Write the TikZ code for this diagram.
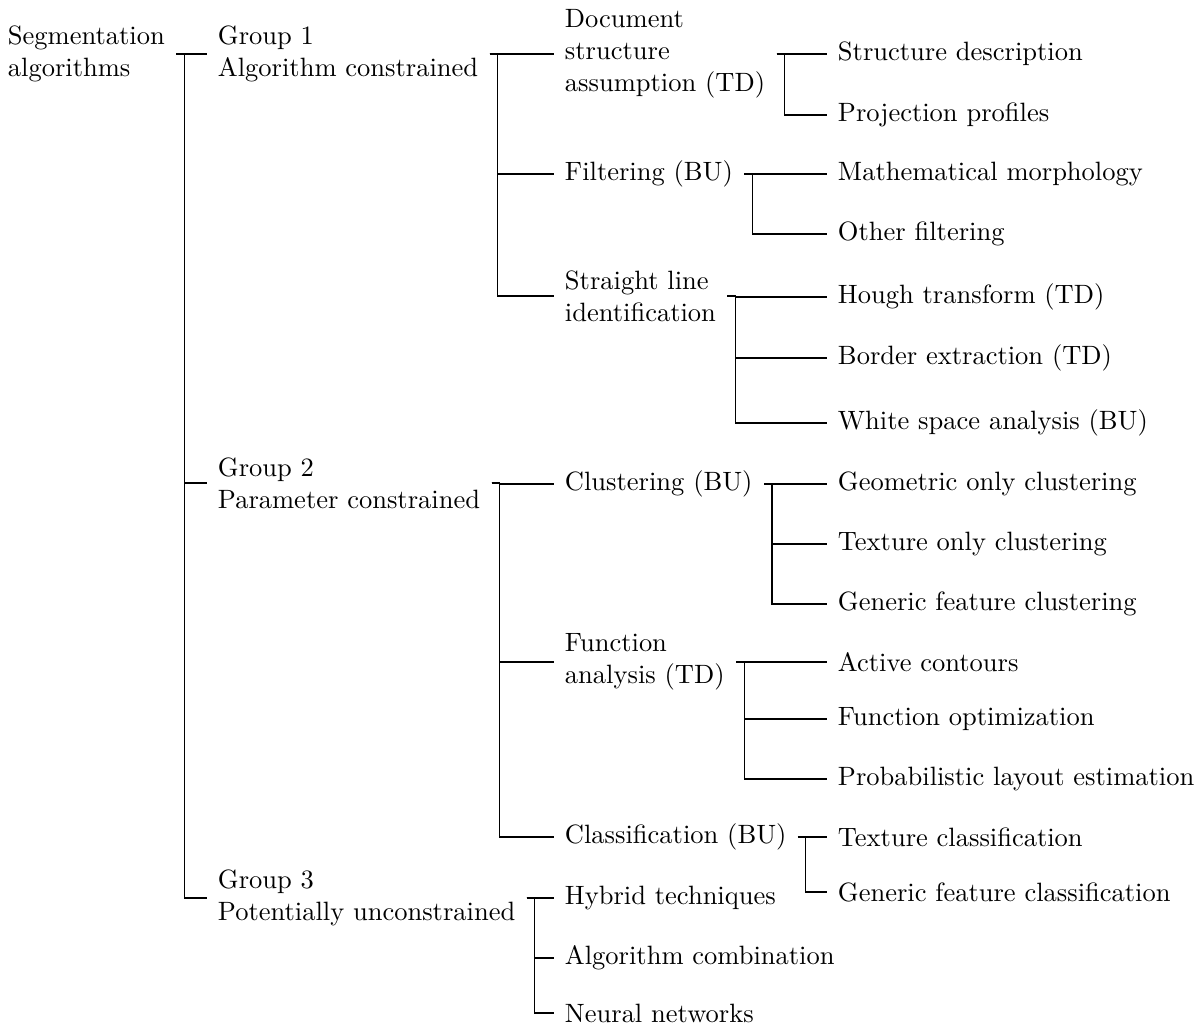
\documentclass[tikz,border=0pt]{standalone}
\usepackage{tikz}
\pgfdeclarelayer{edgelayer}
\pgfdeclarelayer{nodelayer}
\pgfsetlayers{edgelayer,nodelayer,main}
\tikzstyle{edge}=[draw=black]
\tikzstyle{category}=[anchor=west, align=left, outer sep=1pt]

\begin{document}
\begin{tikzpicture}[x=0.3774pt, y=-0.3774pt]
	\useasboundingbox (0, 0) rectangle (1200, 1027);
	\begin{pgfonlayer}{nodelayer}
		% root and groups
		\node [style=category] (seg) at (-3.5, 54) {Segmentation\\algorithms};
		\node [style=category] (g1) at (206.5, 54) {Group 1\\Algorithm constrained};
		\node [style=category] (g2) at (206.5, 483) {Group 2\\Parameter constrained};
		\node [style=category] (g3) at (206.5, 898) {Group 3\\Potentially unconstrained};
		% second level
		\node [style=category] (dsa) at (553.5, 54) {Document\\structure\\assumption (TD)};
		\node [style=category] (filt) at (553.5, 174) {Filtering (BU)};
		\node [style=category] (sli) at (553.5, 296) {Straight line\\identification};
		\node [style=category] (clu) at (553.5, 484) {Clustering (BU)};
		\node [style=category] (fa) at (553.5, 662) {Function\\analysis (TD)};
		\node [style=category] (cla) at (553.5, 837) {Classification (BU)};
		\node [style=category] (hy) at (553.5, 898) {Hybrid techniques};
		\node [style=category] (acomb) at (553.5, 958) {Algorithm combination};
		\node [style=category] (nn) at (553.5, 1013) {Neural networks};
		% leaves
		\node [style=category] (sd) at (826.5, 54) {Structure description};
		\node [style=category] (pp) at (826.5, 115) {Projection profiles};
		\node [style=category] (mm) at (826.5, 174) {Mathematical morphology};
		\node [style=category] (of) at (826.5, 234) {Other filtering};
		\node [style=category] (ht) at (826.5, 297) {Hough transform (TD)};
		\node [style=category] (be) at (826.5, 358) {Border extraction (TD)};
		\node [style=category] (ws) at (826.5, 423) {White space analysis (BU)};
		\node [style=category] (geo) at (826.5, 484) {Geometric only clustering};
		\node [style=category] (tex) at (826.5, 544) {Texture only clustering};
		\node [style=category] (gen) at (826.5, 604) {Generic feature clustering};
		\node [style=category] (ac) at (826.5, 662) {Active contours};
		\node [style=category] (fo) at (826.5, 719) {Function optimization};
		\node [style=category] (ple) at (826.5, 779) {Probabilistic layout estimation};
		\node [style=category] (tc) at (826.5, 837) {Texture classification};
		\node [style=category] (gfc) at (826.5, 892) {Generic feature classification};
	\end{pgfonlayer}
	\begin{pgfonlayer}{edgelayer}
		\draw [style=edge] (seg.east) -- ++(8, 0) |- (g1.west);
		\draw [style=edge] (seg.east) -- ++(8, 0) |- (g2.west);
		\draw [style=edge] (seg.east) -- ++(8, 0) |- (g3.west);
		\draw [style=edge] (g1.east) -- ++(8, 0) |- (dsa.west);
		\draw [style=edge] (g1.east) -- ++(8, 0) |- (filt.west);
		\draw [style=edge] (g1.east) -- ++(8, 0) |- (sli.west);
		\draw [style=edge] (g2.east) -- ++(8, 0) |- (clu.west);
		\draw [style=edge] (g2.east) -- ++(8, 0) |- (fa.west);
		\draw [style=edge] (g2.east) -- ++(8, 0) |- (cla.west);
		\draw [style=edge] (g3.east) -- ++(8, 0) |- (hy.west);
		\draw [style=edge] (g3.east) -- ++(8, 0) |- (acomb.west);
		\draw [style=edge] (g3.east) -- ++(8, 0) |- (nn.west);
		\draw [style=edge] (dsa.east) -- ++(8, 0) |- (sd.west);
		\draw [style=edge] (dsa.east) -- ++(8, 0) |- (pp.west);
		\draw [style=edge] (filt.east) -- ++(8, 0) |- (mm.west);
		\draw [style=edge] (filt.east) -- ++(8, 0) |- (of.west);
		\draw [style=edge] (sli.east) -- ++(8, 0) |- (ht.west);
		\draw [style=edge] (sli.east) -- ++(8, 0) |- (be.west);
		\draw [style=edge] (sli.east) -- ++(8, 0) |- (ws.west);
		\draw [style=edge] (clu.east) -- ++(8, 0) |- (geo.west);
		\draw [style=edge] (clu.east) -- ++(8, 0) |- (tex.west);
		\draw [style=edge] (clu.east) -- ++(8, 0) |- (gen.west);
		\draw [style=edge] (fa.east) -- ++(8, 0) |- (ac.west);
		\draw [style=edge] (fa.east) -- ++(8, 0) |- (fo.west);
		\draw [style=edge] (fa.east) -- ++(8, 0) |- (ple.west);
		\draw [style=edge] (cla.east) -- ++(8, 0) |- (tc.west);
		\draw [style=edge] (cla.east) -- ++(8, 0) |- (gfc.west);
	\end{pgfonlayer}
\end{tikzpicture}
\end{document}
